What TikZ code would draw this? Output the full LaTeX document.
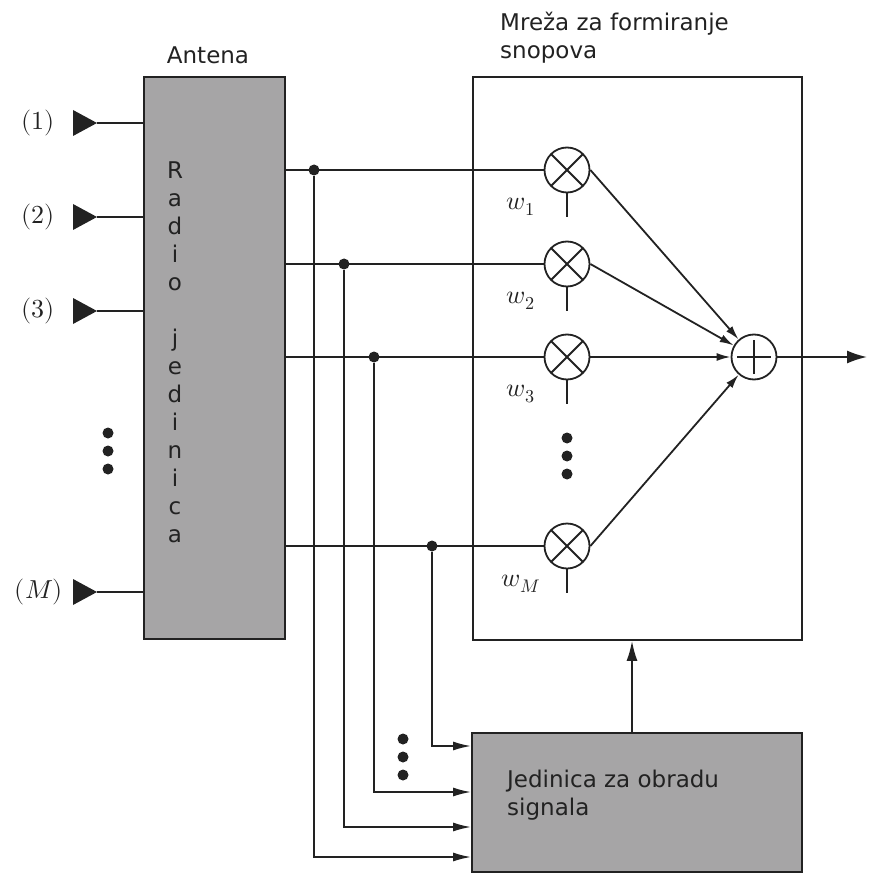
\documentclass[tikz,border=0pt]{standalone}
\usepackage{fontspec}
\usepackage{unicode-math}
\setmathfont{Latin Modern Math}
\newfontfamily\dv{DejaVu Sans}
\usetikzlibrary{arrows.meta,calc}
\definecolor{boxgray}{RGB}{166,165,166}
\definecolor{ink}{RGB}{34,34,34}
\begin{document}
\begin{tikzpicture}[x=1pt,y=-1pt,
  sig/.style={draw=ink, line width=1.8pt},
  box/.style={draw=ink, line width=1.8pt, inner sep=0pt},
  mix/.style={circle, draw=ink, line width=1.8pt, minimum size=45pt, inner sep=0pt,
    path picture={\draw[ink, line width=1.8pt]
      (path picture bounding box.north west) -- (path picture bounding box.south east)
      (path picture bounding box.north east) -- (path picture bounding box.south west);}},
  sumn/.style={circle, draw=ink, line width=1.8pt, minimum size=45pt, inner sep=0pt,
    path picture={\draw[ink, line width=1.8pt]
      ([xshift=-17pt]path picture bounding box.center) -- ([xshift=17pt]path picture bounding box.center)
      ([yshift=-17pt]path picture bounding box.center) -- ([yshift=17pt]path picture bounding box.center);}},
  junction/.style={circle, fill=ink, inner sep=0pt, minimum size=11pt},
  dotmark/.style={circle, fill=ink, inner sep=0pt, minimum size=11pt},
  lbl/.style={font=\dv\fontsize{23}{28}\selectfont, text=ink},
  mathlbl/.style={font=\fontsize{26}{31}\selectfont, text=ink},
  feedarrow/.style={-{Latex[length=18pt,width=9pt]}},
  sumarrow/.style={-{Latex[length=14pt,width=8pt]}},
  uparrow/.style={-{Latex[length=20pt,width=11pt]}},
  bigarrow/.style={-{Latex[length=20pt,width=13pt]}}
]
\useasboundingbox (0,0) rectangle (868,874);

% boxes
\node[box, fill=boxgray, minimum width=141pt, minimum height=562pt] (ant) at (214.5,358) {};
\node[box, minimum width=329pt, minimum height=563pt] (bf) at (637.5,358.5) {};
\node[box, fill=boxgray, minimum width=330pt, minimum height=139pt] (dsp) at (637,802.5) {};

% texts
\node[lbl] (antlbl) at (208,55) {Antena};
\node[lbl, align=left, anchor=north west, inner sep=0pt] (bflbl) at (500,12) {Mreža za formiranje\\snopova};
\node[lbl, align=left, anchor=north west, inner sep=0pt] (dsplbl) at (507,770) {Jedinica za obradu\\signala};
\node[lbl, align=center, inner sep=0pt] (radio) at (175,352) {R\\a\\d\\i\\o\\[28pt]j\\e\\d\\i\\n\\i\\c\\a};

% inputs
\coordinate (in1) at (97,123);
\coordinate (in2) at (97,217);
\coordinate (in3) at (97,311);
\coordinate (inM) at (97,592);
\foreach \c in {in1,in2,in3,inM}{
  \fill[ink] (\c) -- ++(-24,-13) -- ++(0,26) -- cycle;
  \draw[sig] (\c) -- (\c -| ant.west);
}
\node[mathlbl] (l1) at (38,123) {$(1)$};
\node[mathlbl] (l2) at (38,217) {$(2)$};
\node[mathlbl] (l3) at (38,311) {$(3)$};
\node[mathlbl] (lM) at (39,592) {$(M)$};
\node[dotmark] (ld1) at (108,433) {};
\node[dotmark] (ld2) at (108,451) {};
\node[dotmark] (ld3) at (108,469) {};

% mixers and sum
\node[mix] (m1) at (567,170) {};
\node[mix] (m2) at (567,264) {};
\node[mix] (m3) at (567,357) {};
\node[mix] (mM) at (567,546) {};
\node[sumn] (s) at (754,357) {};
\foreach \m in {m1,m2,m3,mM}{
  \draw[sig] (\m.south) -- ++(0,24);
  \draw[sig, sumarrow] (\m.east) -- (s);
}
\node[mathlbl] (w1) at ($(m1)+(-46,37)$) {$w_1$};
\node[mathlbl] (w2) at ($(m2)+(-46,37)$) {$w_2$};
\node[mathlbl] (w3) at ($(m3)+(-46,37)$) {$w_3$};
\node[mathlbl] (wM) at ($(mM)+(-46,38)$) {$w_M$};
\node[dotmark] (bd1) at (567,438) {};
\node[dotmark] (bd2) at (567,456) {};
\node[dotmark] (bd3) at (567,474) {};

% output
\coordinate (out) at (867,357);
\draw[sig, bigarrow] (s.east) -- (out);

% signal lines
\node[junction] (j1) at (314,170) {};
\node[junction] (j2) at (344,264) {};
\node[junction] (j3) at (374,357) {};
\node[junction] (jM) at (432,546) {};
\draw[sig] (ant.east |- m1) -- (m1.west);
\draw[sig] (ant.east |- m2) -- (m2.west);
\draw[sig] (ant.east |- m3) -- (m3.west);
\draw[sig] (ant.east |- mM) -- (mM.west);

\draw[sig, feedarrow] (j1) |- (dsp.west |- 0,857);
\draw[sig, feedarrow] (j2) |- (dsp.west |- 0,827);
\draw[sig, feedarrow] (j3) |- (dsp.west |- 0,792);
\draw[sig, feedarrow] (jM) |- (dsp.west |- 0,746);
\node[dotmark] (dd1) at (403,739) {};
\node[dotmark] (dd2) at (403,757) {};
\node[dotmark] (dd3) at (403,775) {};

% control
\draw[sig, uparrow] (dsp.north -| 632,0) -- (bf.south -| 632,0);
\end{tikzpicture}
\end{document}
